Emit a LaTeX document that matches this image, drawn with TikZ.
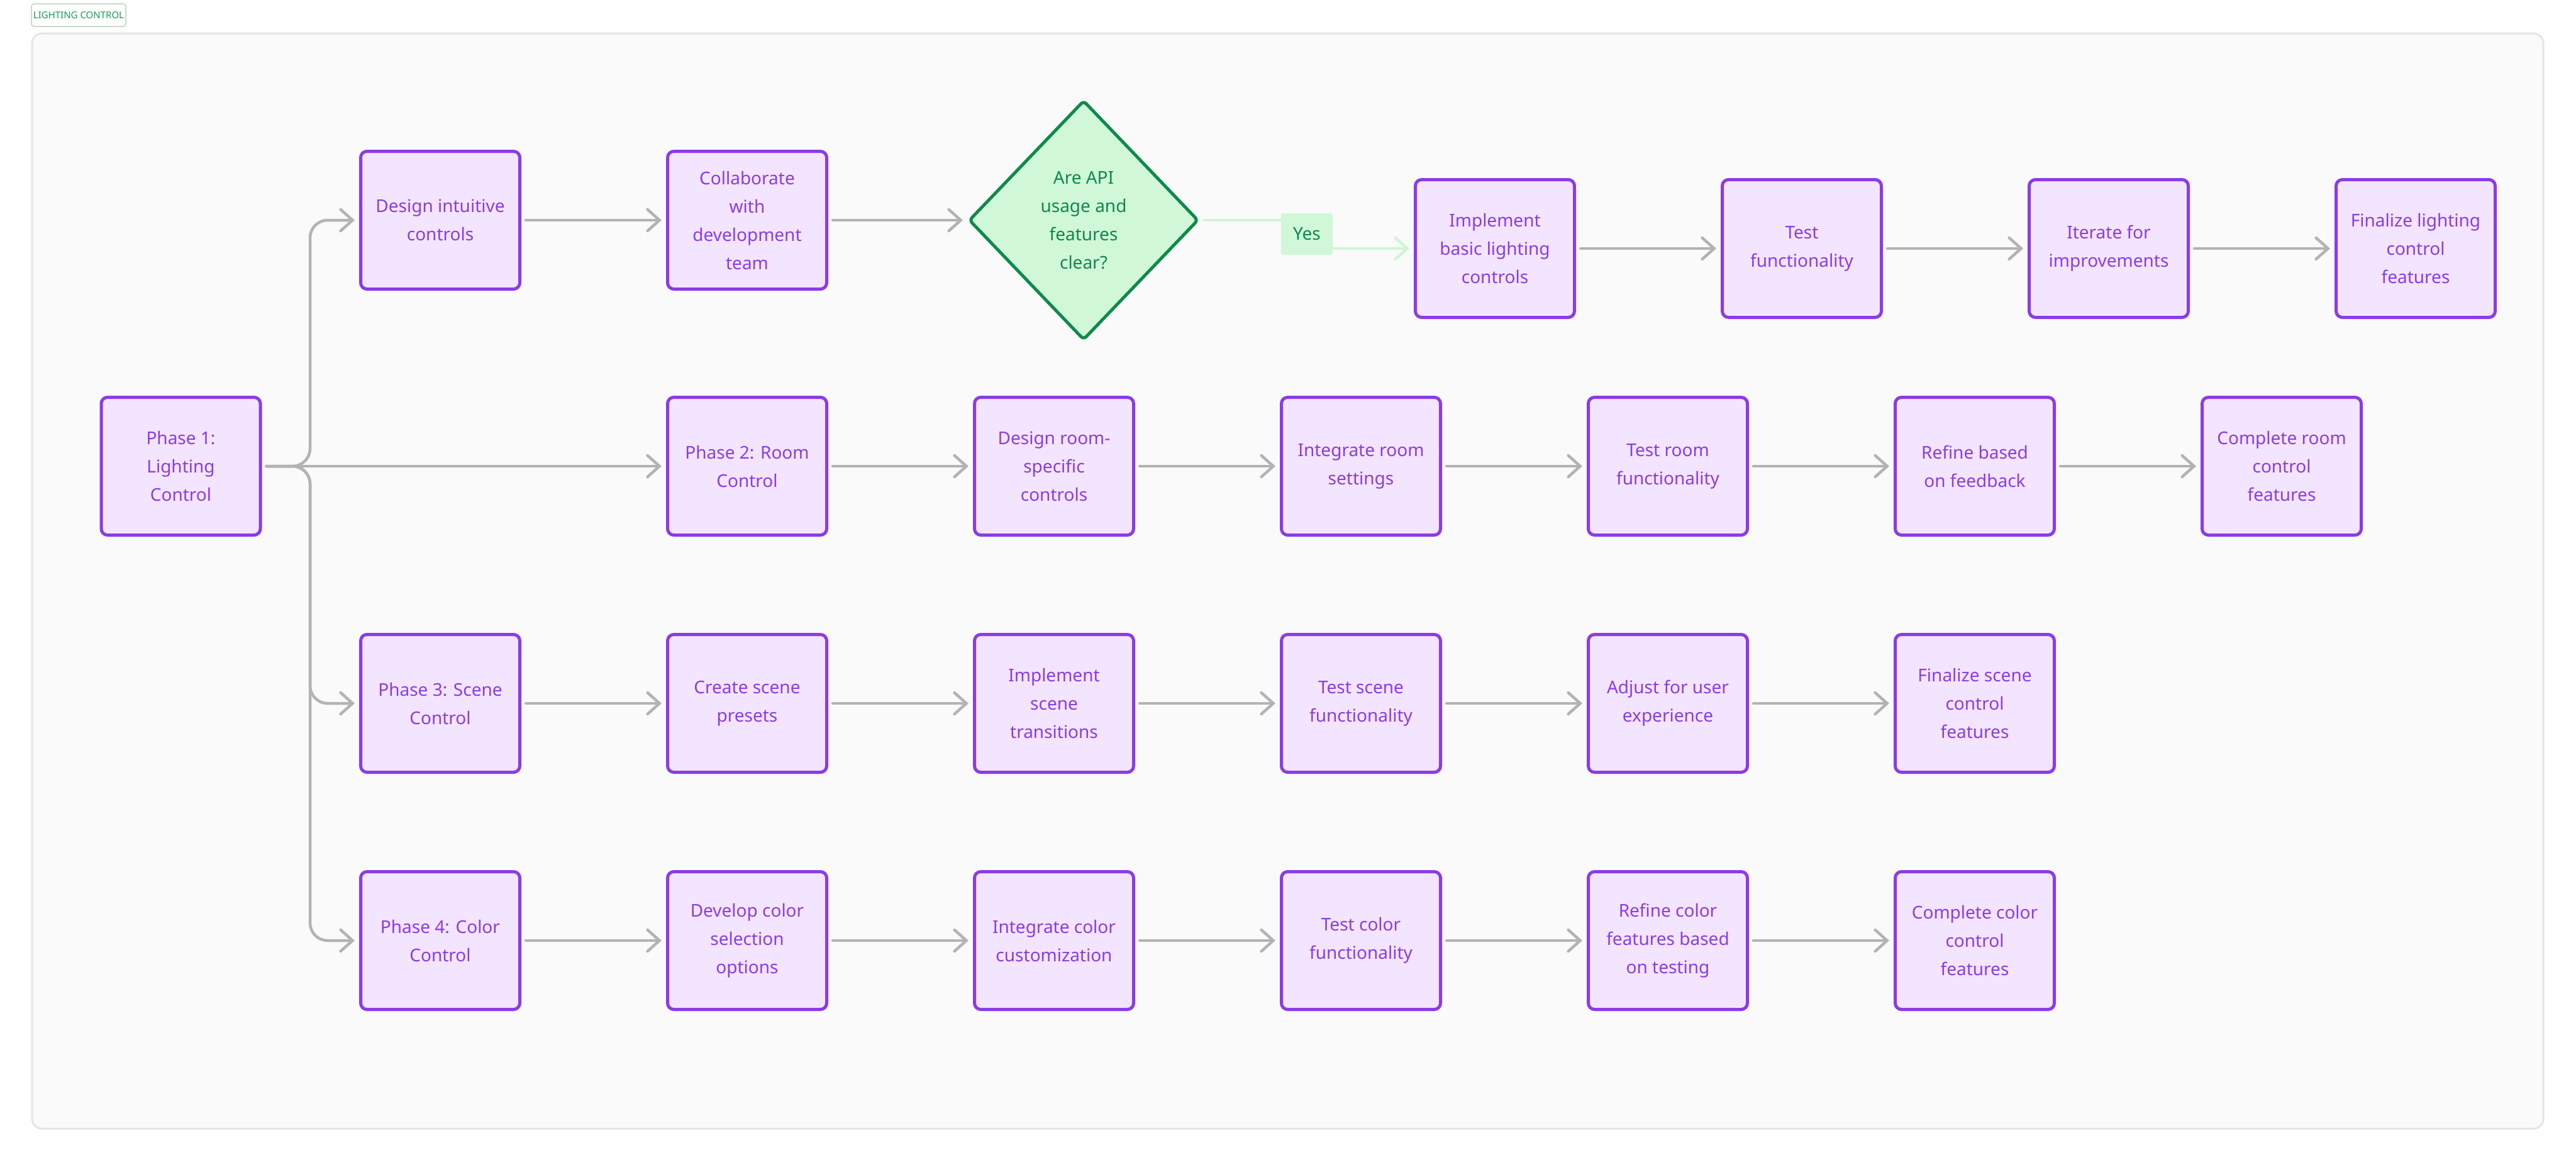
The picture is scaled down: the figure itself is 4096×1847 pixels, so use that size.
\documentclass[tikz,border=0pt]{standalone}
\usepackage{fontspec}
\setmainfont{Noto Sans}
\usetikzlibrary{arrows.meta,shapes.geometric}
\definecolor{pborder}{HTML}{8B3BE6}
\definecolor{pfill}{HTML}{F3E5FF}
\definecolor{ptext}{HTML}{8B3BE6}
\definecolor{gborder}{HTML}{0E8A4A}
\definecolor{gfill}{HTML}{D0F7D8}
\definecolor{gline}{HTML}{CFF5D5}
\definecolor{edgegray}{HTML}{B3B3B3}
\definecolor{framefill}{HTML}{FAFAFA}
\definecolor{frameline}{HTML}{E5E5E5}
\definecolor{titlegreen}{HTML}{179C52}
\definecolor{titleline}{HTML}{BCD3C3}
\begin{document}
\begin{tikzpicture}[x=1pt,y=-1pt,
  box/.style={draw=pborder, fill=pfill, line width=5pt, rounded corners=10pt,
    minimum width=253pt, minimum height=219pt, inner sep=0pt, align=center,
    text=ptext, font=\fontsize{28}{45}\selectfont},
  decision/.style={diamond, draw=gborder, fill=gfill, line width=5pt, rounded corners=6pt,
    minimum width=365pt, minimum height=381pt, inner sep=0pt, align=center,
    text=gborder, font=\fontsize{28}{45}\selectfont},
  conn/.style={draw=edgegray, line width=4.5pt, line cap=round, rounded corners=28pt,
    -{Straight Barb[length=19pt,width=34pt,line width=4.5pt,line cap=round]},
    shorten <=7pt, shorten >=7pt},
  yesconn/.style={conn, draw=gline, rounded corners=0pt},
  yeslabel/.style={fill=gfill, rounded corners=3pt, minimum width=82pt, minimum height=66pt,
    inner sep=0pt, text=gborder, font=\fontsize{28}{34}\selectfont},
  framebox/.style={draw=frameline, fill=framefill, line width=3pt, rounded corners=16pt,
    minimum width=3993pt, minimum height=1741pt, inner sep=0pt},
  titlebox/.style={draw=titleline, fill=white, line width=1.5pt, rounded corners=4pt,
    minimum width=150pt, minimum height=36pt, inner sep=0pt, text=titlegreen,
    font=\fontsize{15}{18}\selectfont}
]
\useasboundingbox (0,0) rectangle (4096,1847);
\fill[white] (0,0) rectangle (4096,1847);
\node[framebox] (frame) at (2047.5,923.5) {};
\node[titlebox] (title) at (125,24) {LIGHTING CONTROL};

% row 1
\node[box] (d1) at (700,350) {Design intuitive\\controls};
\node[box] (c1) at (1188,350) {Collaborate\\with\\development\\team};
\node[decision] (q) at (1723,350) {Are API\\usage and\\features\\clear?};
\node[box] (i1) at (2377,395) {Implement\\basic lighting\\controls};
\node[box] (t1) at (2865,395) {Test\\functionality};
\node[box] (r1) at (3353,395) {Iterate for\\improvements};
\node[box] (f1) at (3841,395) {Finalize lighting\\control\\features};

% row 2
\node[box] (p1) at (287.5,741) {Phase 1:\\Lighting\\Control};
\node[box] (p2) at (1188,741) {Phase 2: Room\\Control};
\node[box] (a2) at (1676,741) {Design room-\\specific\\controls};
\node[box] (b2) at (2164,741) {Integrate room\\settings};
\node[box] (c2) at (2652,741) {Test room\\functionality};
\node[box] (e2) at (3140,741) {Refine based\\on feedback};
\node[box] (f2) at (3628,741) {Complete room\\control\\features};

% row 3
\node[box] (p3) at (700,1118) {Phase 3: Scene\\Control};
\node[box] (a3) at (1188,1118) {Create scene\\presets};
\node[box] (b3) at (1676,1118) {Implement\\scene\\transitions};
\node[box] (c3) at (2164,1118) {Test scene\\functionality};
\node[box] (e3) at (2652,1118) {Adjust for user\\experience};
\node[box] (f3) at (3140,1118) {Finalize scene\\control\\features};

% row 4
\node[box] (p4) at (700,1495) {Phase 4: Color\\Control};
\node[box] (a4) at (1188,1495) {Develop color\\selection\\options};
\node[box] (b4) at (1676,1495) {Integrate color\\customization};
\node[box] (c4) at (2164,1495) {Test color\\functionality};
\node[box] (e4) at (2652,1495) {Refine color\\features based\\on testing};
\node[box] (f4) at (3140,1495) {Complete color\\control\\features};

% trunk
\coordinate (trunk) at (493,741);
\draw[conn] (p1.east) -- (trunk) |- (d1.west);
\draw[conn] (p1.east) -- (p2.west);
\draw[conn] (p1.east) -- (trunk) |- (p3.west);
\draw[conn] (p1.east) -- (trunk) |- (p4.west);

% row 1 edges
\draw[conn] (d1) -- (c1);
\draw[conn] (c1) -- (q);
\coordinate (yespt) at (2078,372);
\draw[yesconn] (q.east) -| (yespt) |- (i1.west);
\node[yeslabel] (yes) at (yespt) {Yes};
\draw[conn] (i1) -- (t1);
\draw[conn] (t1) -- (r1);
\draw[conn] (r1) -- (f1);

% row 2 edges
\draw[conn] (p2) -- (a2);
\draw[conn] (a2) -- (b2);
\draw[conn] (b2) -- (c2);
\draw[conn] (c2) -- (e2);
\draw[conn] (e2) -- (f2);

% row 3 edges
\draw[conn] (p3) -- (a3);
\draw[conn] (a3) -- (b3);
\draw[conn] (b3) -- (c3);
\draw[conn] (c3) -- (e3);
\draw[conn] (e3) -- (f3);

% row 4 edges
\draw[conn] (p4) -- (a4);
\draw[conn] (a4) -- (b4);
\draw[conn] (b4) -- (c4);
\draw[conn] (c4) -- (e4);
\draw[conn] (e4) -- (f4);
\end{tikzpicture}
\end{document}
